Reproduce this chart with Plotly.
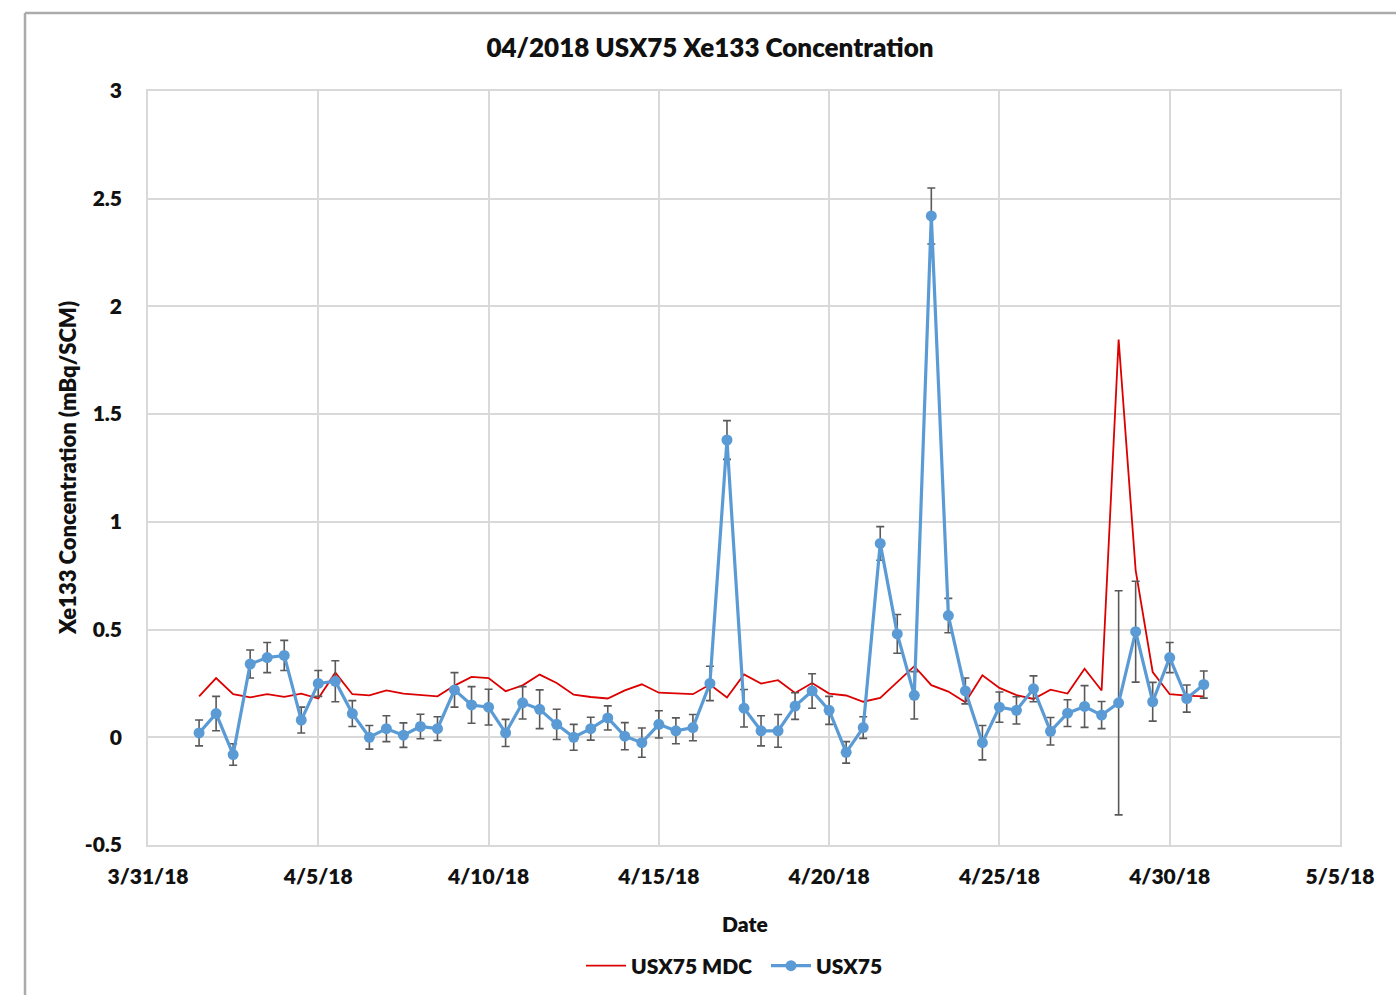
import pandas as pd
import plotly.graph_objects as go

# Sampling times: every 12 hours from 4/1/18 12:00 through 5/1/18 00:00
start = pd.Timestamp("2018-04-01 12:00")
n_samples = 60
times = [start + pd.Timedelta(hours=12 * i) for i in range(n_samples)]

# Xe-133 concentration (mBq/SCM)
usx75 = [
    0.02, 0.11, -0.08, 0.34, 0.37, 0.38, 0.08, 0.25, 0.26, 0.11,
    0.00, 0.04, 0.01, 0.05, 0.04, 0.22, 0.15, 0.14, 0.02, 0.16,
    0.13, 0.06, 0.00, 0.04, 0.09, 0.005, -0.025, 0.06, 0.03, 0.045,
    0.25, 1.38, 0.135, 0.03, 0.03, 0.145, 0.215, 0.125, -0.07, 0.045,
    0.90, 0.48, 0.195, 2.42, 0.565, 0.215, -0.025, 0.14, 0.125, 0.225,
    0.028, 0.112, 0.143, 0.103, 0.16, 0.49, 0.165, 0.37, 0.18, 0.245,
]

# 1-sigma uncertainty of each measurement
usx75_err = [
    0.06, 0.08, 0.05, 0.065, 0.07, 0.07, 0.06, 0.06, 0.095, 0.06,
    0.055, 0.06, 0.057, 0.057, 0.055, 0.08, 0.085, 0.083, 0.063, 0.075,
    0.09, 0.07, 0.06, 0.053, 0.056, 0.063, 0.068, 0.063, 0.06, 0.061,
    0.08, 0.09, 0.087, 0.07, 0.076, 0.062, 0.08, 0.065, 0.05, 0.05,
    0.078, 0.09, 0.11, 0.13, 0.08, 0.06, 0.08, 0.07, 0.063, 0.06,
    0.064, 0.062, 0.097, 0.063, 0.52, 0.234, 0.09, 0.07, 0.063, 0.063,
]

# Minimum detectable concentration
usx75_mdc = [
    0.19, 0.275, 0.20, 0.185, 0.20, 0.188, 0.203, 0.18, 0.30, 0.20,
    0.195, 0.218, 0.203, 0.195, 0.19, 0.24, 0.28, 0.275, 0.214, 0.241,
    0.291, 0.252, 0.198, 0.187, 0.18, 0.218, 0.246, 0.207, 0.203, 0.20,
    0.245, 0.185, 0.292, 0.249, 0.265, 0.206, 0.252, 0.203, 0.194, 0.165,
    0.183, 0.257, 0.33, 0.242, 0.212, 0.163, 0.288, 0.229, 0.196, 0.178,
    0.221, 0.203, 0.318, 0.217, 1.846, 0.775, 0.303, 0.20, 0.193, 0.19,
]

x_tick_dates = ["2018-03-31", "2018-04-05", "2018-04-10", "2018-04-15",
                "2018-04-20", "2018-04-25", "2018-04-30", "2018-05-05"]
x_tick_labels = ["3/31/18", "4/5/18", "4/10/18", "4/15/18",
                 "4/20/18", "4/25/18", "4/30/18", "5/5/18"]
y_tick_vals = [-0.5, 0, 0.5, 1, 1.5, 2, 2.5, 3]
y_tick_labels = ["-0.5", "0", "0.5", "1", "1.5", "2", "2.5", "3"]

FONT = "Lato"
GRID = "#d9d9d9"
TEXT = "#111111"

fig = go.Figure()

fig.add_trace(go.Scatter(
    x=times, y=usx75_mdc, name="USX75 MDC", mode="lines",
    line=dict(color="#dc0000", width=1.8),
))

fig.add_trace(go.Scatter(
    x=times, y=usx75, name="USX75", mode="lines+markers",
    line=dict(color="#5b9bd5", width=3.2),
    marker=dict(color="#5b9bd5", size=11),
    error_y=dict(type="data", array=usx75_err, visible=True,
                 color="#595959", thickness=1.6, width=4),
))

fig.update_layout(
    width=1396, height=995,
    margin=dict(l=148, r=56, t=91, b=150, autoexpand=False),
    paper_bgcolor="white", plot_bgcolor="white",
    font=dict(family=FONT, color=TEXT),
    title=dict(text="04/2018 USX75 Xe133 Concentration",
               x=710 / 1396, xanchor="center", xref="container",
               y=1 - 48 / 995, yanchor="middle", yref="container",
               font=dict(size=26, family=FONT, color=TEXT, weight=800)),
    showlegend=True,
    legend=dict(orientation="h", x=(581 - 148) / 1192, xanchor="left",
                y=(845 - 966) / 754, yanchor="middle",
                font=dict(size=21, family=FONT, color=TEXT, weight=800),
                itemwidth=40, entrywidth=130, entrywidthmode="pixels",
                tracegroupgap=0, bgcolor="rgba(0,0,0,0)"),
)

fig.update_xaxes(
    type="date",
    range=["2018-03-31", "2018-05-05"],
    tickvals=x_tick_dates, ticktext=x_tick_labels,
    tickfont=dict(size=21, family=FONT, color=TEXT, weight=800),
    showgrid=True, gridcolor=GRID, gridwidth=1.5,
    showline=True, linecolor=GRID, linewidth=1.5, mirror=True,
    zeroline=False, ticks="", ticklabelstandoff=12,
)

fig.update_yaxes(
    range=[-0.5, 3],
    tickvals=y_tick_vals, ticktext=y_tick_labels,
    tickfont=dict(size=21, family=FONT, color=TEXT, weight=800),
    showgrid=True, gridcolor=GRID, gridwidth=1.5,
    showline=True, linecolor=GRID, linewidth=1.5, mirror=True,
    zeroline=False, ticks="", ticklabelstandoff=20,
)

# Axis titles
fig.add_annotation(text="Date", xref="paper", yref="paper",
                   x=(745 - 148) / 1192, y=(845 - 923) / 754,
                   xanchor="center", yanchor="middle", showarrow=False,
                   font=dict(size=21, family=FONT, color=TEXT, weight=800))
fig.add_annotation(text="Xe133 Concentration (mBq/SCM)",
                   xref="paper", yref="paper",
                   x=(67 - 148) / 1192, y=(845 - 468) / 754,
                   xanchor="center", yanchor="middle", textangle=-90,
                   showarrow=False,
                   font=dict(size=22, family=FONT, color=TEXT, weight=800))

# Outer chart frame (top and left edges)
fx = (25 - 148) / 1192
fy = 1 + (91 - 13) / 754
fig.add_shape(type="line", xref="paper", yref="paper",
              x0=fx, x1=1.2, y0=fy, y1=fy,
              line=dict(color="#ababab", width=2.5))
fig.add_shape(type="line", xref="paper", yref="paper",
              x0=fx, x1=fx, y0=fy, y1=-0.3,
              line=dict(color="#ababab", width=2.5))

fig.write_html("out.html")
